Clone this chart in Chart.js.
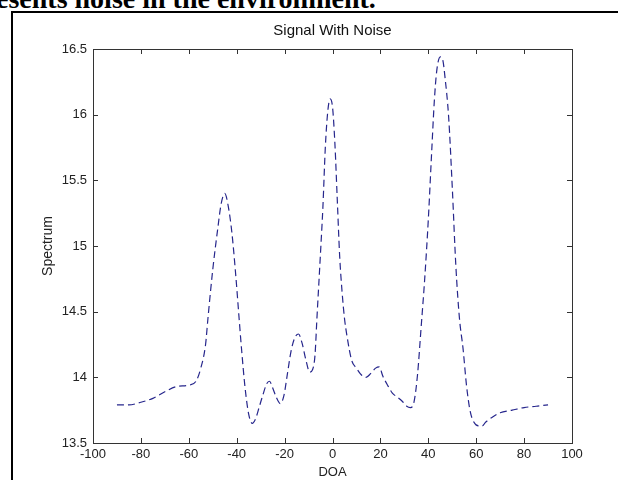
<!DOCTYPE html>
<html>
<head>
<meta charset="utf-8">
<script src="https://cdn.jsdelivr.net/npm/chart.js@4/dist/chart.umd.min.js"></script>
<style>
  html, body { margin: 0; padding: 0; background: #fff; }
  body { width: 618px; height: 480px; position: relative; overflow: hidden; }
  #caption {
    position: absolute; left: -4px; top: -15px;
    font: bold 28px "Liberation Serif", "Times New Roman", serif;
    line-height: 28px; color: #000; white-space: nowrap;
  }
  #frame {
    position: absolute; left: 11px; top: 11px; width: 700px; height: 600px;
    border-left: 2px solid #000; border-top: 2px solid #000;
  }
  #chart { position: absolute; left: 0; top: 0; }
</style>
</head>
<body>
<div id="caption">esents noise in the environment.</div>
<div id="frame"></div>
<canvas id="chart" width="618" height="480"></canvas>
<script>
// Direction of arrival (degrees) and spectrum level
const doa = [
  -90, -85, -80, -75, -70, -65, -60, -57, -55, -53, -52, -50, -48, -46.5, -45,
  -43.5, -42, -40.5, -39, -38, -36.5, -35, -33.5, -32, -30.5, -29, -27.5, -26.3,
  -25, -23.5, -21.8, -20.3, -18.8, -17.3, -15.8, -14.2, -12.7, -11.2, -9.5, -8.3,
  -7.3, -6.5, -5, -4, -3, -2, -1, 0, 1, 2, 3, 4, 5, 6, 8, 10, 12, 14, 16, 18,
  19.5, 21, 23, 25, 27, 29, 31, 32.5, 34, 35.5, 37, 38.5, 40, 41.5, 42.5, 43.5,
  45, 46, 47, 48.5, 50, 51.5, 53, 54.5, 56, 57.5, 59, 61, 62.5, 64, 67, 70, 75,
  80, 85, 90
];
const spectrum = [
  13.79, 13.79, 13.81, 13.84, 13.89, 13.93, 13.94, 13.97, 14.07, 14.25, 14.45,
  14.82, 15.12, 15.32, 15.40, 15.30, 15.10, 14.80, 14.45, 14.22, 13.92, 13.72,
  13.65, 13.69, 13.78, 13.87, 13.95, 13.97, 13.92, 13.85, 13.80, 13.86, 14.03,
  14.20, 14.30, 14.33, 14.26, 14.14, 14.04, 14.06, 14.17, 14.45, 14.95, 15.30,
  15.75, 16.02, 16.12, 16.06, 15.78, 15.35, 14.92, 14.65, 14.45, 14.32, 14.13,
  14.07, 14.02, 14.00, 14.03, 14.07, 14.08, 14.01, 13.94, 13.88, 13.85, 13.82,
  13.78, 13.77, 13.81, 14.02, 14.38, 14.75, 15.20, 15.75, 16.10, 16.33, 16.44,
  16.42, 16.28, 15.98, 15.45, 14.85, 14.45, 14.22, 13.93, 13.74, 13.66, 13.63,
  13.63, 13.66, 13.70, 13.73, 13.75, 13.77, 13.78, 13.79
];
const xTicks = [-100, -80, -60, -40, -20, 0, 20, 40, 60, 80, 100];
const yTicks = [13.5, 14, 14.5, 15, 15.5, 16, 16.5];

const axisColor = '#333';
const family = '"Liberation Sans", Arial, Helvetica, sans-serif';
const tickFont = { family, size: 13 };

// Axes box with inward tick marks on all four sides, plus the title
const boxPlugin = {
  id: 'box',
  afterDraw(chart) {
    const { ctx, chartArea: a, scales } = chart;
    const len = 5;
    ctx.save();
    ctx.strokeStyle = axisColor;
    ctx.lineWidth = 1;
    ctx.strokeRect(Math.round(a.left) + 0.5, Math.round(a.top) + 0.5,
                   Math.round(a.right - a.left), Math.round(a.bottom - a.top));
    ctx.beginPath();
    xTicks.forEach(v => {
      const x = Math.round(scales.x.getPixelForValue(v)) + 0.5;
      ctx.moveTo(x, a.bottom); ctx.lineTo(x, a.bottom - len);
      ctx.moveTo(x, a.top); ctx.lineTo(x, a.top + len);
    });
    yTicks.forEach(v => {
      const y = Math.round(scales.y.getPixelForValue(v)) + 0.5;
      ctx.moveTo(a.left, y); ctx.lineTo(a.left + len, y);
      ctx.moveTo(a.right, y); ctx.lineTo(a.right - len, y);
    });
    ctx.stroke();
    ctx.fillStyle = '#111';
    ctx.font = '15px ' + family;
    ctx.textAlign = 'center';
    ctx.textBaseline = 'middle';
    ctx.fillText('Signal With Noise', (a.left + a.right) / 2, a.top - 18);
    ctx.restore();
  }
};

new Chart(document.getElementById('chart'), {
  type: 'line',
  data: {
    datasets: [{
      data: doa.map((d, i) => ({ x: d, y: spectrum[i] })),
      borderColor: '#26268c',
      borderWidth: 1.2,
      borderDash: [7, 4],
      pointRadius: 0,
      cubicInterpolationMode: 'monotone',
      fill: false
    }]
  },
  options: {
    responsive: false,
    devicePixelRatio: 1,
    animation: false,
    layout: { padding: { left: 0, top: 49, right: 46, bottom: 0 } },
    plugins: { legend: { display: false }, tooltip: { enabled: false } },
    scales: {
      x: {
        type: 'linear', min: -100, max: 100,
        afterBuildTicks: s => { s.ticks = xTicks.map(v => ({ value: v })); },
        afterFit: s => { s.height = 37; },
        grid: { display: false, drawTicks: false },
        border: { display: false },
        ticks: { color: '#222', font: tickFont, padding: 4, maxRotation: 0, autoSkip: false,
                 callback: v => String(v) },
        title: { display: true, text: 'DOA', color: '#222', font: { family, size: 13 },
                 padding: { top: 0, bottom: 0 } }
      },
      y: {
        type: 'linear', min: 13.5, max: 16.5,
        afterBuildTicks: s => { s.ticks = yTicks.map(v => ({ value: v })); },
        afterFit: s => { s.width = 93; },
        grid: { display: false, drawTicks: false },
        border: { display: false },
        ticks: { color: '#222', font: tickFont, padding: 6, autoSkip: false,
                 callback: v => String(v) },
        title: { display: true, text: 'Spectrum', color: '#222', font: { family, size: 14 },
                 padding: { top: 40, bottom: 0 } }
      }
    }
  },
  plugins: [boxPlugin]
});
</script>
</body>
</html>
